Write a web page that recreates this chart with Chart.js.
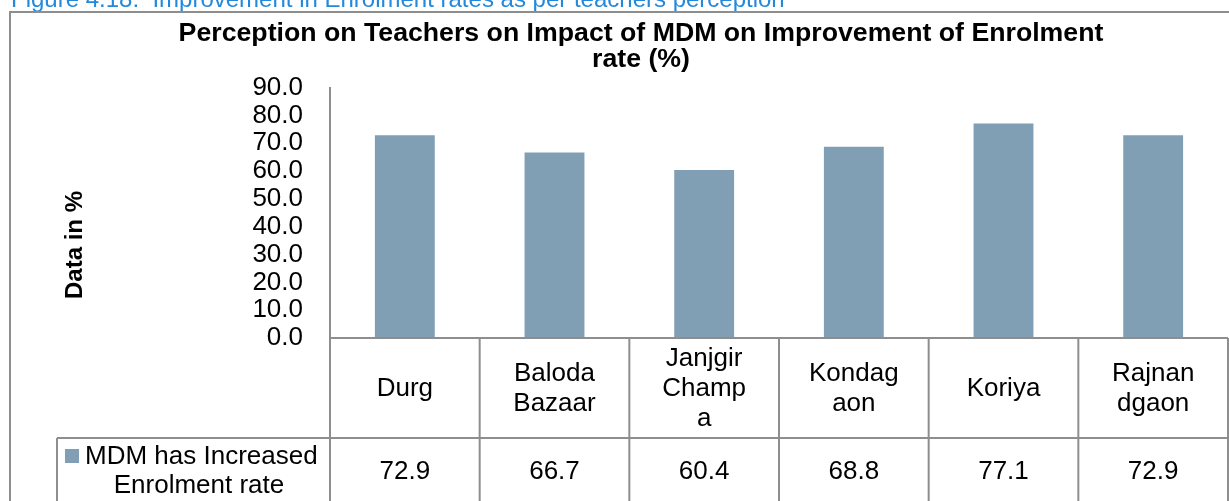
<!DOCTYPE html>
<html>
<head>
<meta charset="utf-8">
<script src="https://cdn.jsdelivr.net/npm/chart.js@4.4.1/dist/chart.umd.min.js"></script>
<style>
  html, body { margin: 0; padding: 0; background: #ffffff; overflow: hidden; }
  #wrap { position: relative; width: 1229px; height: 501px; }
  canvas { display: block; }
</style>
</head>
<body>
<div id="wrap"><canvas id="c" width="1229" height="501"></canvas></div>
<script>
// ---- data ----
const caption = "Figure 4.18:  Improvement in Enrolment rates as per teachers perception";
const chartTitle = ["Perception on Teachers on Impact of MDM on Improvement of Enrolment", "rate (%)"];
const yAxisTitle = "Data in %";
const categories = ["Durg", "Baloda Bazaar", "Janjgir Champa", "Kondagaon", "Koriya", "Rajnandgaon"];
const tickLabels = [["Durg"], ["Baloda", "Bazaar"], ["Janjgir", "Champ", "a"], ["Kondag", "aon"], ["Koriya"], ["Rajnan", "dgaon"]];
const seriesName = ["MDM has Increased", "Enrolment rate"];
const values = [72.9, 66.7, 60.4, 68.8, 77.1, 72.9];
const yMin = 0, yMax = 90, yStep = 10;

const FONT = "'Liberation Sans', Arial, Helvetica, sans-serif";
const BAR = '#809FB5';
const LINE = '#8E8E8E';
Chart.defaults.font.family = FONT;
Chart.defaults.color = '#000000';

const tablePlugin = {
  id: 'tablePlugin',
  beforeDraw(chart) {
    const ctx = chart.ctx;
    ctx.save();
    ctx.fillStyle = '#ffffff';
    ctx.fillRect(0, 0, chart.width, chart.height);
    ctx.restore();
  },
  afterDraw(chart) {
    const ctx = chart.ctx;
    const xs = chart.scales.x;
    const ca = chart.chartArea;
    const n = categories.length;
    const colW = (xs.right - xs.left) / n;
    const top = ca.bottom;
    const mid = xs.bottom;
    const bottom = chart.height + 2;
    const legLeft = 57;
    ctx.save();
    // caption
    ctx.fillStyle = '#2489DB';
    ctx.font = '24px ' + FONT;
    ctx.textAlign = 'left';
    ctx.textBaseline = 'alphabetic';
    ctx.fillText(caption, 11, 7);
    // outer frame
    ctx.strokeStyle = LINE;
    ctx.lineWidth = 2;
    ctx.beginPath();
    ctx.moveTo(10, bottom); ctx.lineTo(10, 12); ctx.lineTo(chart.width + 2, 12);
    ctx.stroke();
    // table lines
    ctx.beginPath();
    ctx.moveTo(xs.left, top); ctx.lineTo(xs.right, top);
    ctx.moveTo(legLeft, mid); ctx.lineTo(xs.right, mid);
    for (let k = 0; k <= n; k++) {
      const xx = xs.getPixelForTick(Math.min(k, n - 1)) + (k === n ? colW / 2 : -colW / 2);
      ctx.moveTo(xx, top); ctx.lineTo(xx, bottom);
    }
    ctx.moveTo(legLeft, mid); ctx.lineTo(legLeft, bottom);
    ctx.stroke();
    // values row
    ctx.fillStyle = '#000000';
    ctx.font = '26px ' + FONT;
    ctx.textAlign = 'center';
    ctx.textBaseline = 'middle';
    values.forEach((v, i) => {
      ctx.fillText(v.toFixed(1), xs.getPixelForTick(i), mid + 34);
    });
    // legend key + name
    ctx.fillStyle = BAR;
    ctx.fillRect(65, 449, 14, 14);
    ctx.fillStyle = '#000000';
    ctx.textAlign = 'left';
    ctx.fillText(seriesName[0], 85, mid + 19);
    ctx.textAlign = 'center';
    ctx.fillText(seriesName[1], 199, mid + 48);
    // y axis title
    ctx.translate(75, 245);
    ctx.rotate(-Math.PI / 2);
    ctx.font = 'bold 24px ' + FONT;
    ctx.textAlign = 'center';
    ctx.textBaseline = 'middle';
    ctx.fillText(yAxisTitle, 0, 0);
    ctx.restore();
  }
};

new Chart(document.getElementById('c'), {
  type: 'bar',
  data: {
    labels: tickLabels,
    datasets: [{
      label: seriesName.join(' '),
      data: values,
      backgroundColor: BAR,
      borderWidth: 0,
      categoryPercentage: 1.0,
      barPercentage: 0.4
    }]
  },
  options: {
    responsive: false,
    devicePixelRatio: 1,
    animation: false,
    layout: { padding: { left: 54, right: 1, top: 0, bottom: 63 } },
    plugins: {
      legend: { display: false },
      tooltip: { enabled: false },
      title: {
        display: true,
        text: chartTitle,
        color: '#000000',
        font: { family: FONT, size: 26.7, weight: 'bold', lineHeight: 1.0 },
        padding: { top: 20, bottom: 14.3 }
      }
    },
    scales: {
      x: {
        grid: { display: false, drawTicks: false },
        border: { display: false },
        ticks: {
          autoSkip: false, maxRotation: 0, minRotation: 0,
          color: '#000000',
          font: { family: FONT, size: 26, lineHeight: 30 / 26 },
          crossAlign: 'center',
          padding: 21
        },
        afterFit(scale) { scale.height = 100; }
      },
      y: {
        min: yMin, max: yMax,
        grid: { display: false, drawTicks: false },
        border: { display: true, color: LINE, width: 2 },
        ticks: {
          autoSkip: false,
          stepSize: yStep,
          color: '#000000',
          font: { family: FONT, size: 26 },
          padding: 27,
          callback: (v) => Number(v).toFixed(1)
        },
        afterFit(scale) { scale.width = 276; }
      }
    }
  },
  plugins: [tablePlugin]
});
</script>
</body>
</html>
